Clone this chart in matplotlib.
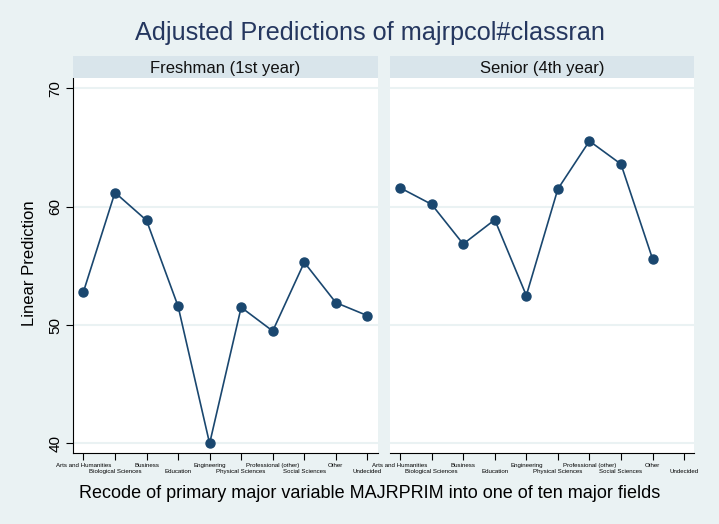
"""Adjusted predictions of majrpcol#classran, two panels by class rank."""

import numpy as np
import matplotlib
matplotlib.use("Agg")
import matplotlib.pyplot as plt
from matplotlib.transforms import ScaledTranslation

majors = ["Arts and Humanities", "Biological Sciences", "Business", "Education",
          "Engineering", "Physical Sciences", "Professional (other)",
          "Social Sciences", "Other", "Undecided"]
panels = ["Freshman (1st year)", "Senior (4th year)"]
freshman = [52.8, 61.2, 58.85, 51.6, 40.0, 51.5, 49.5, 55.3, 51.9, 50.8]
senior = [61.6, 60.2, 56.85, 58.9, 52.5, 61.5, 65.55, 63.6, 55.6, np.nan]
yticks = [40, 50, 60, 70]

BG = "#EAF2F3"
STRIP = "#D9E5EB"
NAVY = "#1A476F"
TITLE = "#25375F"

plt.rcParams["font.family"] = ["Liberation Sans", "DejaVu Sans"]

fig = plt.figure(figsize=(7.19, 5.24), dpi=100, facecolor=BG)
x = np.arange(1, len(majors) + 1)

lefts = [73.3 / 719, 390 / 719]
width = 304.5 / 719
bottom = 1 - 453.3 / 524
height = (453.3 - 78.3) / 524

for i, (name, vals) in enumerate(zip(panels, [freshman, senior])):
    ax = fig.add_axes([lefts[i], bottom, width, height])
    ax.set_facecolor("white")
    ax.plot(x, vals, color=NAVY, lw=1.2, marker="o", ms=6.5, mec=NAVY, mfc=NAVY)
    ax.set_xlim(0.68, 10.33)
    ax.set_ylim(39.17, 70.85)
    ax.set_yticks(yticks)
    ax.grid(axis="y", color=BG, lw=1.5)
    ax.set_axisbelow(True)
    for s in ["top", "right"]:
        ax.spines[s].set_visible(False)
    ax.spines["bottom"].set_color("black")
    ax.spines["bottom"].set_linewidth(0.8)
    ax.set_xticks(x)
    ax.set_xticklabels(majors, fontsize=4.4)
    ax.tick_params(axis="x", length=5, width=0.8, pad=2)
    off = ScaledTranslation(0, -6 / 100, fig.dpi_scale_trans)
    for lab in ax.get_xticklabels()[1::2]:
        lab.set_transform(lab.get_transform() + off)
    if i == 0:
        ax.spines["left"].set_linewidth(0.8)
        ax.tick_params(axis="y", length=5, width=0.8, labelsize=11, pad=3)
        for lab in ax.get_yticklabels():
            lab.set_rotation(90)
            lab.set_va("center")
    else:
        ax.spines["left"].set_visible(False)
        ax.tick_params(axis="y", length=0, labelleft=False)

    # strip title above the panel
    sax = fig.add_axes([lefts[i], 1 - 78.3 / 524, width, 22.3 / 524])
    sax.set_facecolor(STRIP)
    sax.set_xticks([])
    sax.set_yticks([])
    for s in sax.spines.values():
        s.set_visible(False)
    sax.text(0.5, 0.45, name, ha="center", va="center", fontsize=12,
             color="#111111", transform=sax.transAxes)

fig.text(370 / 719, 1 - 33 / 524, "Adjusted Predictions of majrpcol#classran",
         ha="center", va="center", fontsize=18.2, color=TITLE)
fig.text(30 / 719, 0.498, "Linear Prediction", rotation=90,
         ha="center", va="center", fontsize=12)
fig.text(370 / 719, 1 - 493 / 524,
         "Recode of primary major variable MAJRPRIM into one of ten major fields",
         ha="center", va="center", fontsize=13)

fig.savefig("out.png", dpi=100, facecolor=BG)
